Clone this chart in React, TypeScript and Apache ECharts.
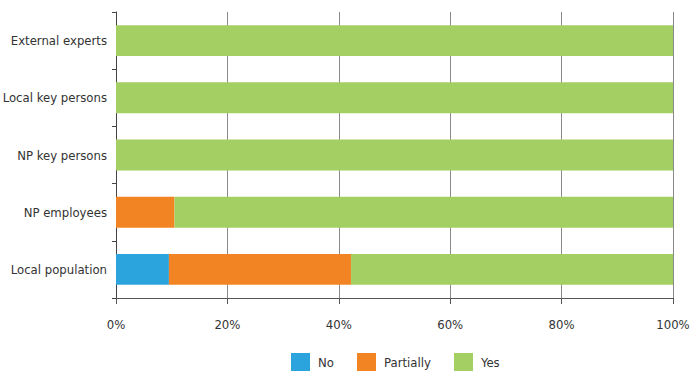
import React, { useEffect, useRef } from "react";
import * as echarts from "echarts";

const categories = ["Local population", "NP employees", "NP key persons", "Local key persons", "External experts"];
const noValues = [9.5, 0, 0, 0, 0];
const partiallyValues = [32.7, 10.5, 0, 0, 0];
const yesValues = [57.8, 89.5, 100, 100, 100];
const seriesNames = ["No", "Partially", "Yes"];
const colors = ["#2ba3dc", "#f38424", "#a4cf63"];
const legendLefts = [291, 357, 454];

const FONT = "'DejaVu Sans Condensed', 'Liberation Sans', sans-serif";

export default function App() {
  const ref = useRef<HTMLDivElement>(null);
  useEffect(() => {
    if (!ref.current) return;
    const chart = echarts.init(ref.current, null, { renderer: "svg" });
    const data = [noValues, partiallyValues, yesValues];
    chart.setOption({
      animation: false,
      textStyle: { fontFamily: FONT },
      grid: { left: 116, right: 17, top: 12, height: 286, containLabel: false, outerBoundsMode: "none" },
      legend: seriesNames.map((name, i) => ({
        left: legendLefts[i],
        top: 353,
        itemWidth: 19,
        itemHeight: 18,
        icon: "rect",
        padding: 0,
        textStyle: { fontFamily: FONT, fontSize: 13, color: "#333", padding: [0, 0, 0, 3] },
        data: [name],
      })),
      xAxis: {
        type: "value",
        min: 0,
        max: 100,
        interval: 20,
        axisLine: { show: true, lineStyle: { color: "#555", width: 1 } },
        axisTick: { show: true, length: 6, lineStyle: { color: "#555" } },
        splitLine: { show: true, lineStyle: { color: "#8a8a8a", width: 1 } },
        axisLabel: { formatter: "{value}%", margin: 20, fontSize: 13, color: "#333", fontFamily: FONT },
      },
      yAxis: {
        type: "category",
        data: categories,
        axisLine: { show: true, lineStyle: { color: "#444", width: 1 } },
        axisTick: { show: true, length: 4, alignWithLabel: false, lineStyle: { color: "#444" } },
        axisLabel: { margin: 9, fontSize: 13, color: "#333", fontFamily: FONT },
      },
      series: seriesNames.map((name, i) => ({
        name,
        type: "bar",
        stack: "total",
        barCategoryGap: "46%",
        itemStyle: { color: colors[i] },
        data: data[i],
      })),
    });
    return () => chart.dispose();
  }, []);
  return <div ref={ref} style={{ width: 690, height: 371, position: "absolute", left: 0, top: 0 }} />;
}
